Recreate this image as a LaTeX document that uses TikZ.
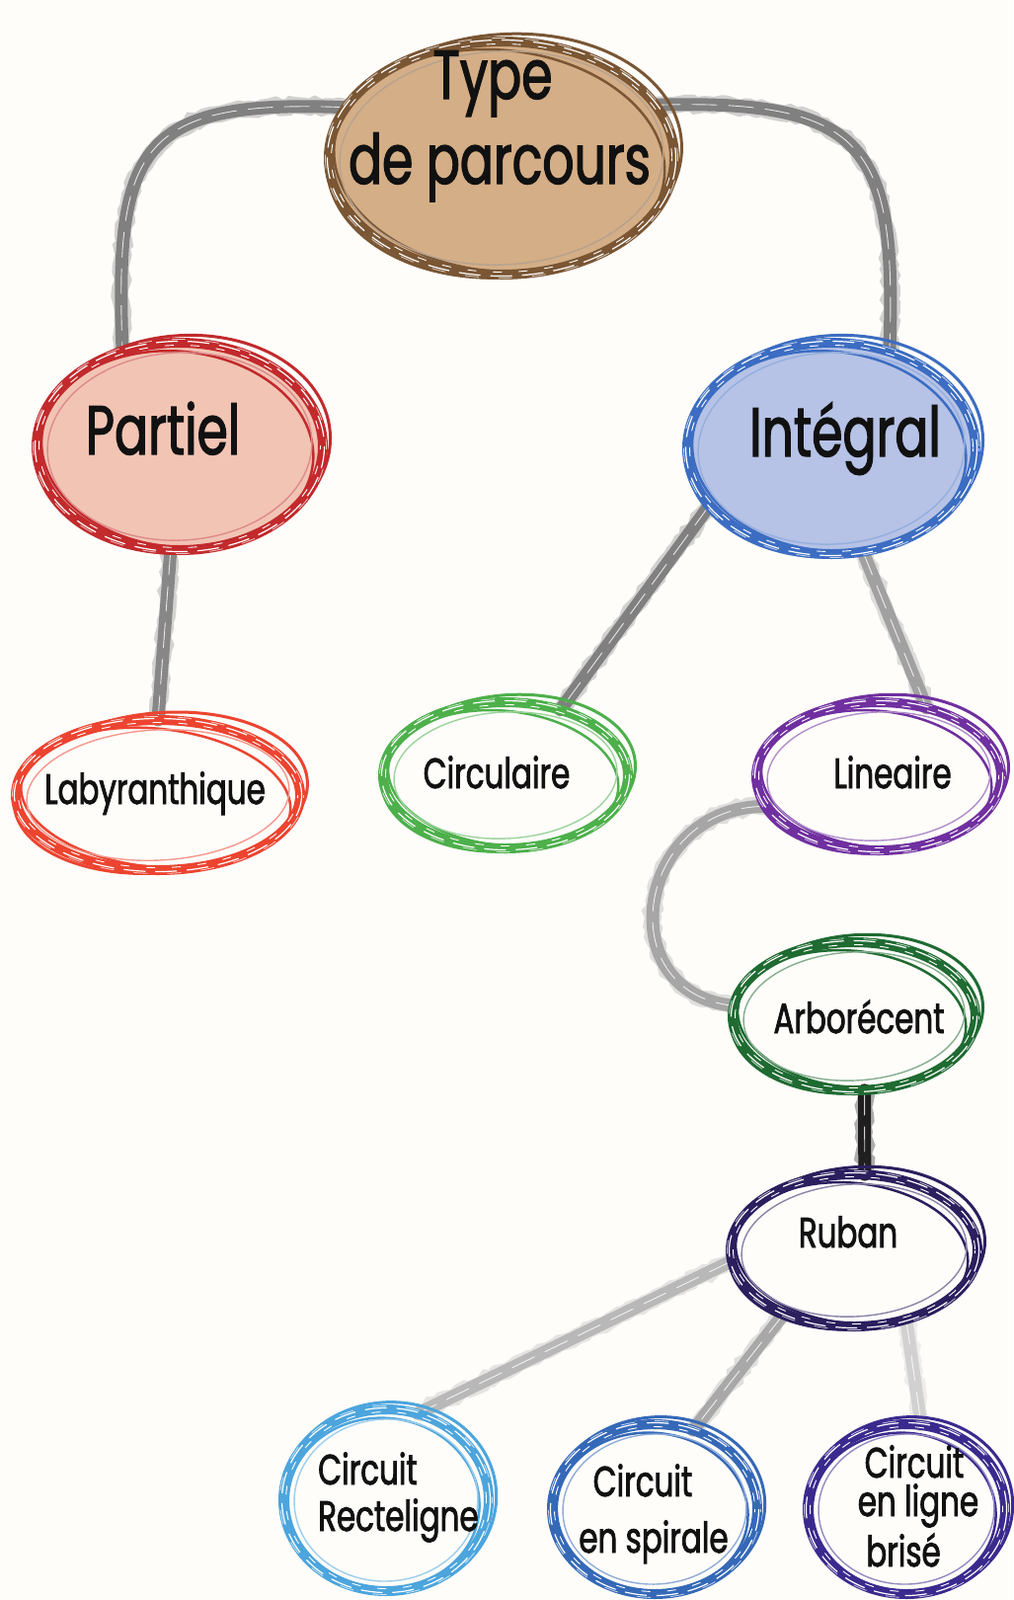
\documentclass[tikz,border=0pt]{standalone}
\usepackage{fontspec}
\setmainfont{Poppins}[FakeStretch=0.72,FakeBold=1.8]
\usetikzlibrary{shapes.geometric,backgrounds,decorations.pathmorphing}
\definecolor{bgc}{HTML}{FEFDFA}
\definecolor{typeF}{HTML}{D4AE86}
\definecolor{typeD}{HTML}{7A5634}
\definecolor{partF}{HTML}{F2C4B4}
\definecolor{partD}{HTML}{C22A2C}
\definecolor{intF}{HTML}{B6C2E6}
\definecolor{intD}{HTML}{3C6DC2}
\definecolor{labD}{HTML}{EC4430}
\definecolor{circD}{HTML}{4DB04B}
\definecolor{linD}{HTML}{7030A0}
\definecolor{arbD}{HTML}{1F6B32}
\definecolor{rubD}{HTML}{2B1F5E}
\definecolor{recD}{HTML}{4CA5DD}
\definecolor{spiD}{HTML}{3569B8}
\definecolor{briD}{HTML}{3B2A8E}
\definecolor{txt}{HTML}{111111}
\newcommand\sketchring[4]{%
 \draw[#4, line width=10pt] (#1.center) ellipse [x radius=#2, y radius=#3];
 \draw[#4, line width=3pt, rotate around={5:(#1.center)}] ([shift={(3,-2)}]#1.center) ellipse [x radius=#2+5, y radius=#3+5];
 \draw[#4, line width=2.5pt, rotate around={-6:(#1.center)}] ([shift={(-2,3)}]#1.center) ellipse [x radius=#2-7, y radius=#3-6];
 \draw[#4!55!white, line width=1.4pt, rotate around={3:(#1.center)}] (#1.center) ellipse [x radius=#2-11, y radius=#3-10];
 \draw[white, line width=1.2pt, dash pattern=on 22pt off 10pt] (#1.center) ellipse [x radius=#2+1.5, y radius=#3+1.5];
 \draw[white, line width=0.9pt, dash pattern=on 9pt off 17pt, dash phase=6pt] (#1.center) ellipse [x radius=#2-2.5, y radius=#3-2.5];
 \draw[white!70!#4, line width=0.8pt, dash pattern=on 14pt off 20pt, dash phase=11pt] (#1.center) ellipse [x radius=#2+3.5, y radius=#3+3.5];
}
\tikzset{
  oval/.style={ellipse, inner sep=0pt, draw=none},
  big/.style={anchor=base, text=txt, inner sep=0pt, font=\fontsize{70}{80}\selectfont},
  small/.style={anchor=base, text=txt, inner sep=0pt, font=\fontsize{43}{50}\selectfont},
  conn/.style={draw=#1, line width=13pt, line cap=round,
    preaction={draw=#1, line width=17pt, opacity=0.35, decorate,
      decoration={random steps, segment length=6pt, amplitude=2pt}},
    postaction={draw=white, line width=0.9pt, dash pattern=on 25pt off 12pt, opacity=0.8}},
}
\begin{document}
\begin{tikzpicture}[x=1pt,y=-1pt]
\useasboundingbox (0,0) rectangle (1026,1620);
% ovals
\node[oval, fill=typeF, minimum width=350pt, minimum height=236pt] (type) at (508,160) {};
\node[oval, fill=partF, minimum width=290pt, minimum height=210pt] (partiel) at (182,452) {};
\node[oval, fill=intF, minimum width=292pt, minimum height=214pt] (integral) at (842,454) {};
\node[oval, minimum width=288pt, minimum height=152pt] (laby) at (160,805) {};
\node[oval, minimum width=248pt, minimum height=148pt] (circ) at (512,785) {};
\node[oval, minimum width=248pt, minimum height=150pt] (lin) at (890,786) {};
\node[oval, minimum width=246pt, minimum height=150pt] (arb) at (865,1029) {};
\node[oval, minimum width=250pt, minimum height=154pt] (ruban) at (865,1266) {};
\node[oval, minimum width=208pt, minimum height=184pt] (rect) at (391,1519) {};
\node[oval, minimum width=208pt, minimum height=172pt] (spi) at (663,1528) {};
\node[oval, minimum width=200pt, minimum height=172pt] (bri) at (918,1528) {};
% sketchy rings
\sketchring{type}{175}{118}{typeD}
\sketchring{partiel}{145}{105}{partD}
\sketchring{integral}{146}{107}{intD}
\sketchring{laby}{144}{76}{labD}
\sketchring{circ}{124}{74}{circD}
\sketchring{lin}{124}{75}{linD}
\sketchring{arb}{123}{75}{arbD}
\sketchring{ruban}{125}{77}{rubD}
\sketchring{rect}{104}{92}{recD}
\sketchring{spi}{104}{86}{spiD}
\sketchring{bri}{100}{86}{briD}
% texts
\node[big] (typeA) at (499,100) {Type};
\node[big] (typeB) at (506,186) {de parcours};
\node[big] (partT) at (165,460) {Partiel};
\node[big] (intT) at (856,462) {Intégral};
\node[small] (labT) at (157,814) {Labyranthique};
\node[small] (circT) at (503,798) {Circulaire};
\node[small] (linT) at (904,798) {Lineaire};
\node[small] (arbT) at (870,1046) {Arborécent};
\node[small] (rubT) at (859,1263) {Ruban};
\node[small, anchor=base west] (recA) at (322,1503) {Circuit};
\node[small, anchor=base west] (recB) at (322,1550) {Recteligne};
\node[small] (spiA) at (651,1515) {Circuit};
\node[small] (spiB) at (662,1572) {en spirale};
\node[small] (briA) at (926,1496) {Circuit};
\node[small] (briB) at (930,1535) {en ligne};
\node[small] (briC) at (915,1586) {brisé};
% connectors
\begin{scope}[on background layer]
\fill[bgc] (0,0) rectangle (1026,1620);
\draw[conn=black!50] (type.162) .. controls (140,100) and (116,150) .. (partiel.121);
\draw[conn=black!50] (type.19) .. controls (880,100) and (908,150) .. (integral.59);
\draw[conn=black!47] (partiel.265) -- (laby.north);
\draw[conn=black!50] (integral.205) -- (circ.50);
\draw[conn=black!37] (integral.287) -- (lin.55);
\draw[conn=black!35] (lin.195) .. controls (645,815) and (615,1005) .. (arb.175);
\draw[conn=black!88] (arb.-82) -- (ruban.82);
\draw[conn=black!28] (ruban.185) -- (rect.70);
\draw[conn=black!34] (ruban.222) -- (spi.64);
\draw[conn=black!18] (ruban.307) -- (bri.80);
\end{scope}
\end{tikzpicture}
\end{document}
